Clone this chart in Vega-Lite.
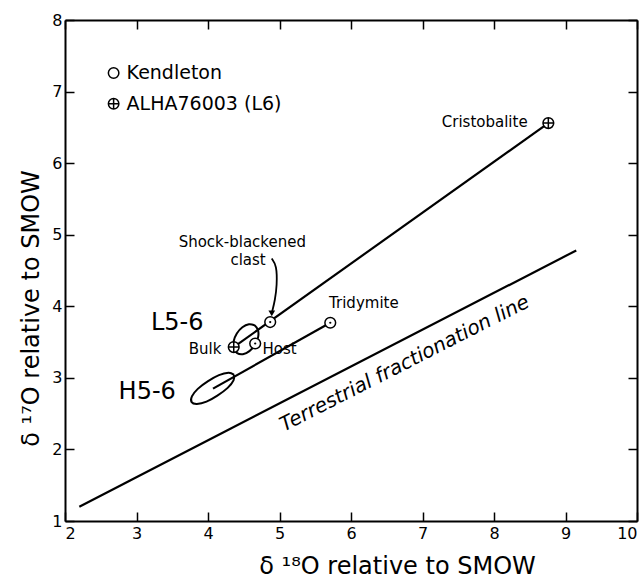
{
  "$schema": "https://vega.github.io/schema/vega-lite/v6.json",
  "width": 572,
  "height": 501,
  "autosize": {"type": "none"},
  "padding": {"left": 65, "top": 20, "right": 7, "bottom": 58},
  "background": "white",
  "config": {
    "font": "DejaVu Sans",
    "view": {"stroke": null},
    "axis": {
      "domainColor": "black", "domainWidth": 2,
      "tickColor": "black", "tickWidth": 1.5, "tickSize": -9,
      "labelColor": "black", "labelFont": "DejaVu Sans", "labelFontSize": 16,
      "titleColor": "black", "titleFont": "DejaVu Sans", "titleFontSize": 24, "titleFontWeight": "normal",
      "grid": false
    }
  },
  "datasets": {
    "lines": [
      {"line": "terr", "o": 1, "x": 2.2, "y": 1.2},
      {"line": "terr", "o": 2, "x": 9.15, "y": 4.78},
      {"line": "alha", "o": 1, "x": 4.36, "y": 3.43},
      {"line": "alha", "o": 2, "x": 8.76, "y": 6.56},
      {"line": "kend", "o": 1, "x": 4.07, "y": 2.85},
      {"line": "kend", "o": 2, "x": 5.71, "y": 3.77}
    ],
    "ellipses": [
      {"e": "L5-6", "o": 0, "x": 4.652, "y": 3.735},
      {"e": "L5-6", "o": 1, "x": 4.572, "y": 3.749},
      {"e": "L5-6", "o": 2, "x": 4.481, "y": 3.706},
      {"e": "L5-6", "o": 3, "x": 4.403, "y": 3.620},
      {"e": "L5-6", "o": 4, "x": 4.359, "y": 3.511},
      {"e": "L5-6", "o": 5, "x": 4.361, "y": 3.411},
      {"e": "L5-6", "o": 6, "x": 4.408, "y": 3.345},
      {"e": "L5-6", "o": 7, "x": 4.488, "y": 3.331},
      {"e": "L5-6", "o": 8, "x": 4.579, "y": 3.374},
      {"e": "L5-6", "o": 9, "x": 4.657, "y": 3.461},
      {"e": "L5-6", "o": 10, "x": 4.701, "y": 3.569},
      {"e": "L5-6", "o": 11, "x": 4.699, "y": 3.669},
      {"e": "L5-6", "o": 12, "x": 4.652, "y": 3.735},
      {"e": "H5-6", "o": 0, "x": 4.361, "y": 3.045},
      {"e": "H5-6", "o": 1, "x": 4.287, "y": 3.070},
      {"e": "H5-6", "o": 2, "x": 4.153, "y": 3.038},
      {"e": "H5-6", "o": 3, "x": 4.001, "y": 2.954},
      {"e": "H5-6", "o": 4, "x": 3.857, "y": 2.846},
      {"e": "H5-6", "o": 5, "x": 3.775, "y": 2.741},
      {"e": "H5-6", "o": 6, "x": 3.771, "y": 2.661},
      {"e": "H5-6", "o": 7, "x": 3.845, "y": 2.636},
      {"e": "H5-6", "o": 8, "x": 3.979, "y": 2.668},
      {"e": "H5-6", "o": 9, "x": 4.131, "y": 2.752},
      {"e": "H5-6", "o": 10, "x": 4.275, "y": 2.860},
      {"e": "H5-6", "o": 11, "x": 4.357, "y": 2.965},
      {"e": "H5-6", "o": 12, "x": 4.361, "y": 3.045}
    ],
    "arrow": [
      {"o": 1, "x": 4.891, "y": 4.667},
      {"o": 2, "x": 4.961, "y": 4.573},
      {"o": 3, "x": 4.965, "y": 4.294},
      {"o": 4, "x": 4.937, "y": 4.084},
      {"o": 5, "x": 4.895, "y": 3.916}
    ],
    "arrowhead": [{"x": 4.892, "y": 3.9}],
    "points": [
      {"sample": "ALHA76003 (L6)", "name": "Cristobalite", "x": 8.76, "y": 6.56},
      {"sample": "ALHA76003 (L6)", "name": "Bulk", "x": 4.36, "y": 3.43},
      {"sample": "Kendleton", "name": "Shock-blackened clast", "x": 4.87, "y": 3.78},
      {"sample": "Kendleton", "name": "Tridymite", "x": 5.71, "y": 3.77},
      {"sample": "Kendleton", "name": "Host", "x": 4.66, "y": 3.48}
    ],
    "key": [
      {"sample": "Kendleton", "x": 2.68, "y": 7.26},
      {"sample": "ALHA76003 (L6)", "x": 2.68, "y": 6.83}
    ],
    "smallLabels": [
      {"text": "Cristobalite", "x": 7.87, "y": 6.57},
      {"text": "Shock-blackened", "x": 4.48, "y": 4.9},
      {"text": "clast", "x": 4.56, "y": 4.64},
      {"text": "Tridymite", "x": 6.18, "y": 4.04},
      {"text": "Bulk", "x": 3.96, "y": 3.41},
      {"text": "Host", "x": 5.0, "y": 3.41}
    ],
    "bigLabels": [
      {"text": "L5-6", "x": 3.57, "y": 3.76},
      {"text": "H5-6", "x": 3.15, "y": 2.8}
    ],
    "lineLabel": [
      {"text": "Terrestrial fractionation line", "x": 6.75, "y": 3.2}
    ]
  },
  "layer": [
    {
      "data": {"name": "lines"},
      "transform": [{"filter": "datum.line === 'terr'"}],
      "mark": {"type": "line", "color": "black", "strokeWidth": 2.2},
      "encoding": {
        "x": {"field": "x", "type": "quantitative", "scale": {"domain": [2, 10], "nice": false, "zero": false},
          "axis": {"orient": "bottom", "values": [2, 3, 4, 5, 6, 7, 8, 9, 10], "title": "δ ¹⁸O relative to SMOW",
            "labelPadding": 13, "titleX": 332, "titleY": 45, "titleBaseline": "middle", "titleAlign": "center"}},
        "y": {"field": "y", "type": "quantitative", "scale": {"domain": [1, 8], "nice": false, "zero": false},
          "axis": {"orient": "left", "values": [1, 2, 3, 4, 5, 6, 7, 8], "title": "δ ¹⁷O relative to SMOW",
            "labelPadding": 12, "titleX": -34, "titleY": 288, "titleBaseline": "middle", "titleAlign": "center", "titleAngle": -90}},
        "order": {"field": "o"}
      }
    },
    {
      "data": {"name": "lines"},
      "transform": [{"filter": "datum.line !== 'terr'"}],
      "mark": {"type": "line", "color": "black", "strokeWidth": 2.2},
      "encoding": {
        "x": {"field": "x", "type": "quantitative", "scale": {"domain": [2, 10], "nice": false, "zero": false},
          "axis": {"orient": "top", "values": [2, 3, 4, 5, 6, 7, 8, 9, 10], "labels": false, "title": null}},
        "y": {"field": "y", "type": "quantitative", "scale": {"domain": [1, 8], "nice": false, "zero": false},
          "axis": {"orient": "right", "values": [1, 2, 3, 4, 5, 6, 7, 8], "labels": false, "title": null}},
        "detail": {"field": "line"},
        "order": {"field": "o"}
      }
    },
    {
      "data": {"name": "ellipses"},
      "mark": {"type": "line", "color": "black", "strokeWidth": 2, "interpolate": "cardinal"},
      "encoding": {
        "x": {"field": "x", "type": "quantitative", "scale": {"domain": [2, 10]}, "axis": null},
        "y": {"field": "y", "type": "quantitative", "scale": {"domain": [1, 8]}, "axis": null},
        "detail": {"field": "e"},
        "order": {"field": "o"}
      }
    },
    {
      "data": {"name": "arrow"},
      "mark": {"type": "line", "color": "black", "strokeWidth": 1.8, "interpolate": "basis"},
      "encoding": {
        "x": {"field": "x", "type": "quantitative", "scale": {"domain": [2, 10]}, "axis": null},
        "y": {"field": "y", "type": "quantitative", "scale": {"domain": [1, 8]}, "axis": null},
        "order": {"field": "o"}
      }
    },
    {
      "data": {"name": "arrowhead"},
      "mark": {"type": "point", "shape": "triangle-down", "filled": true, "color": "black", "size": 45, "opacity": 1},
      "encoding": {
        "x": {"field": "x", "type": "quantitative", "scale": {"domain": [2, 10]}, "axis": null},
        "y": {"field": "y", "type": "quantitative", "scale": {"domain": [1, 8]}, "axis": null}
      }
    },
    {
      "data": {"name": "points"},
      "mark": {"type": "point", "fill": "white", "stroke": "black", "strokeWidth": 1.5, "size": 115, "opacity": 1, "fillOpacity": 1},
      "encoding": {
        "x": {"field": "x", "type": "quantitative", "scale": {"domain": [2, 10]}, "axis": null},
        "y": {"field": "y", "type": "quantitative", "scale": {"domain": [1, 8]}, "axis": null},
        "shape": {"field": "sample", "type": "nominal",
          "scale": {"domain": ["Kendleton", "ALHA76003 (L6)"], "range": ["circle", "M-1,0A1,1,0,1,0,1,0A1,1,0,1,0,-1,0ZM-1,0L1,0M0,-1L0,1"]},
          "legend": null}
      }
    },
    {
      "data": {"name": "points"},
      "transform": [{"filter": "datum.sample === 'Kendleton'"}],
      "mark": {"type": "point", "shape": "circle", "filled": true, "color": "black", "size": 5, "opacity": 1},
      "encoding": {
        "x": {"field": "x", "type": "quantitative", "scale": {"domain": [2, 10]}, "axis": null},
        "y": {"field": "y", "type": "quantitative", "scale": {"domain": [1, 8]}, "axis": null}
      }
    },
    {
      "data": {"name": "key"},
      "mark": {"type": "point", "fill": "white", "stroke": "black", "strokeWidth": 1.5, "size": 110, "opacity": 1, "fillOpacity": 1},
      "encoding": {
        "x": {"field": "x", "type": "quantitative", "scale": {"domain": [2, 10]}, "axis": null},
        "y": {"field": "y", "type": "quantitative", "scale": {"domain": [1, 8]}, "axis": null},
        "shape": {"field": "sample", "type": "nominal", "legend": null}
      }
    },
    {
      "data": {"name": "key"},
      "mark": {"type": "text", "font": "DejaVu Sans", "fontSize": 19, "color": "black", "align": "left", "baseline": "middle", "dx": 13},
      "encoding": {
        "x": {"field": "x", "type": "quantitative", "scale": {"domain": [2, 10]}, "axis": null},
        "y": {"field": "y", "type": "quantitative", "scale": {"domain": [1, 8]}, "axis": null},
        "text": {"field": "sample"}
      }
    },
    {
      "data": {"name": "smallLabels"},
      "mark": {"type": "text", "font": "DejaVu Sans", "fontSize": 15, "color": "black", "align": "center", "baseline": "middle"},
      "encoding": {
        "x": {"field": "x", "type": "quantitative", "scale": {"domain": [2, 10]}, "axis": null},
        "y": {"field": "y", "type": "quantitative", "scale": {"domain": [1, 8]}, "axis": null},
        "text": {"field": "text"}
      }
    },
    {
      "data": {"name": "bigLabels"},
      "mark": {"type": "text", "font": "DejaVu Sans", "fontSize": 24, "color": "black", "align": "center", "baseline": "middle"},
      "encoding": {
        "x": {"field": "x", "type": "quantitative", "scale": {"domain": [2, 10]}, "axis": null},
        "y": {"field": "y", "type": "quantitative", "scale": {"domain": [1, 8]}, "axis": null},
        "text": {"field": "text"}
      }
    },
    {
      "data": {"name": "lineLabel"},
      "mark": {"type": "text", "font": "DejaVu Sans", "fontSize": 20, "fontStyle": "italic", "color": "black", "align": "center", "baseline": "middle", "angle": -27},
      "encoding": {
        "x": {"field": "x", "type": "quantitative", "scale": {"domain": [2, 10]}, "axis": null},
        "y": {"field": "y", "type": "quantitative", "scale": {"domain": [1, 8]}, "axis": null},
        "text": {"field": "text"}
      }
    }
  ],
  "resolve": {"axis": {"x": "independent", "y": "independent"}}
}
